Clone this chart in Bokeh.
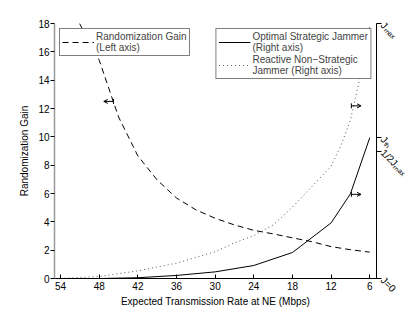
import math
from bokeh.plotting import figure
from bokeh.models import (Range1d, LinearAxis, FixedTicker, Label,
                          Legend, LegendItem, Arrow, TeeHead, OpenHead)
from bokeh.embed import file_html
from bokeh.resources import INLINE

# ---- data ----
rates_gain = [54, 48, 45, 42, 39, 36, 33, 30, 27, 24, 21, 18, 15, 12, 9, 6]
gain = [20.5, 15.4, 11.4, 8.65, 6.95, 5.68, 4.85, 4.25, 3.78, 3.40, 3.15, 2.87, 2.6, 2.25, 2.03, 1.86]

rates_opt = [54, 48, 42, 36, 30, 24, 18, 12, 9, 6]
opt_power = [0.0, 0.0, 0.003, 0.012, 0.026, 0.051, 0.102, 0.218, 0.332, 0.552]

rates_react = [54, 48, 42, 36, 30, 27, 24, 21, 18, 15, 12, 10.5, 9, 7.5, 6]
react_power = [0.0, 0.008, 0.03, 0.06, 0.105, 0.14, 0.168, 0.21, 0.28, 0.36, 0.44, 0.52, 0.62, 0.79, 0.99]

left_ticks = [0, 2, 4, 6, 8, 10, 12, 14, 16, 18]
x_ticks = [54, 48, 42, 36, 30, 24, 18, 12, 6]
right_ticks = [0, 0.5, 0.552, 1]
right_tick_labels = ["J=0", "1/2J\u2098\u2090\u2093", "J\u209c\u2095", "J\u2098\u2090\u2093"]

FONT = "Liberation Sans"

p = figure(frame_width=322, frame_height=255,
           min_border_left=54, min_border_top=23, min_border_right=39, min_border_bottom=0,
           x_range=Range1d(54.95, 4.95), y_range=Range1d(0, 18),
           output_backend="svg", toolbar_location=None, tools="")
p.extra_y_ranges = {"right": Range1d(0, 1)}
p.outline_line_color = None
p.xgrid.visible = False
p.ygrid.visible = False
p.background_fill_color = "white"
p.border_fill_color = "white"

r_gain = p.line(rates_gain, gain, line_color="black", line_width=1, line_dash="6 4")
r_opt = p.line(rates_opt, opt_power, line_color="black", line_width=1, y_range_name="right")
r_react = p.line(rates_react, react_power, line_color="#555555", line_width=1,
                 line_dash="1 3", y_range_name="right")

# axes
xa = p.xaxis[0]
xa.ticker = FixedTicker(ticks=x_ticks)
xa.axis_label = "Expected Transmission Rate at NE (Mbps)"
xa.major_tick_in = 4
xa.major_tick_out = 0
xa.minor_tick_line_color = None
xa.major_label_standoff = 3
xa.axis_label_standoff = 3

ya = p.yaxis[0]
ya.ticker = FixedTicker(ticks=left_ticks)
ya.axis_label = "Randomization Gain"
ya.major_tick_in = 0
ya.major_tick_out = 4
ya.minor_tick_line_color = None
ya.major_label_standoff = 1
ya.axis_label_standoff = 5
ya.axis_line_color = "#999999"
ya.axis_line_width = 1.5

ra = LinearAxis(y_range_name="right", ticker=FixedTicker(ticks=right_ticks))
ra.major_label_overrides = {t: l for t, l in zip(right_ticks, right_tick_labels)}
ra.major_label_orientation = -math.pi / 4
ra.major_tick_in = 0
ra.major_tick_out = 5
ra.minor_tick_line_color = None
ra.major_label_standoff = 1
p.add_layout(ra, "right")

for ax in (xa, ya, ra):
    ax.major_label_text_font = FONT
    ax.major_label_text_font_size = "10px"
    ax.major_label_text_color = "black"
    ax.axis_label_text_font = FONT
    ax.axis_label_text_font_size = "10px"
    ax.axis_label_text_font_style = "normal"
    ax.axis_label_text_color = "black"
    ax.major_tick_line_color = "black"
xa.axis_line_color = "black"
ra.axis_line_color = "black"

# right axis title (reads bottom-to-top, as in the reference)
p.add_layout(Label(x=0.0, y=9, x_units="data", y_units="data",
                   text="Average Jamming Power", angle=math.pi / 2,
                   text_align="center", text_baseline="middle",
                   text_font=FONT, text_font_size="10px", text_color="black"))

# legends
leg1 = Legend(items=[LegendItem(label="Randomization Gain\n(Left axis)", renderers=[r_gain])],
              location="top_left")
leg2 = Legend(items=[LegendItem(label="Optimal Strategic Jammer\n(Right axis)", renderers=[r_opt]),
                     LegendItem(label="Reactive Non\u2212Strategic\nJammer (Right axis)", renderers=[r_react])],
              location="top_right")
for lg in (leg1, leg2):
    lg.margin = 5
    lg.padding = 2
    lg.spacing = 1
    lg.glyph_width = 32
    lg.glyph_height = 22
    lg.label_standoff = 2
    lg.label_height = 22
    lg.label_text_font = FONT
    lg.label_text_font_size = "10px"
    lg.label_text_line_height = 1.05
    lg.border_line_color = "black"
    lg.border_line_width = 1
    lg.background_fill_alpha = 1
    lg.background_fill_color = "white"
    p.add_layout(lg)

# direction arrows (which axis each curve belongs to)
arrow_left = dict(x_start=45.8, x_end=47.3, y=12.5)
arrow_react = dict(x_start=8.85, x_end=7.35, y=0.677)
arrow_opt = dict(x_start=8.85, x_end=7.35, y=0.33)
p.add_layout(Arrow(x_start=arrow_left["x_start"], y_start=arrow_left["y"],
                   x_end=arrow_left["x_end"], y_end=arrow_left["y"],
                   start=TeeHead(size=5, line_width=1), end=OpenHead(size=4, line_width=1),
                   line_width=1))
for a in (arrow_react, arrow_opt):
    p.add_layout(Arrow(x_start=a["x_start"], y_start=a["y"], x_end=a["x_end"], y_end=a["y"],
                       start=TeeHead(size=5, line_width=1), end=OpenHead(size=4, line_width=1),
                       line_width=1, y_range_name="right"))

open("out.html", "w").write(file_html(p, INLINE))
